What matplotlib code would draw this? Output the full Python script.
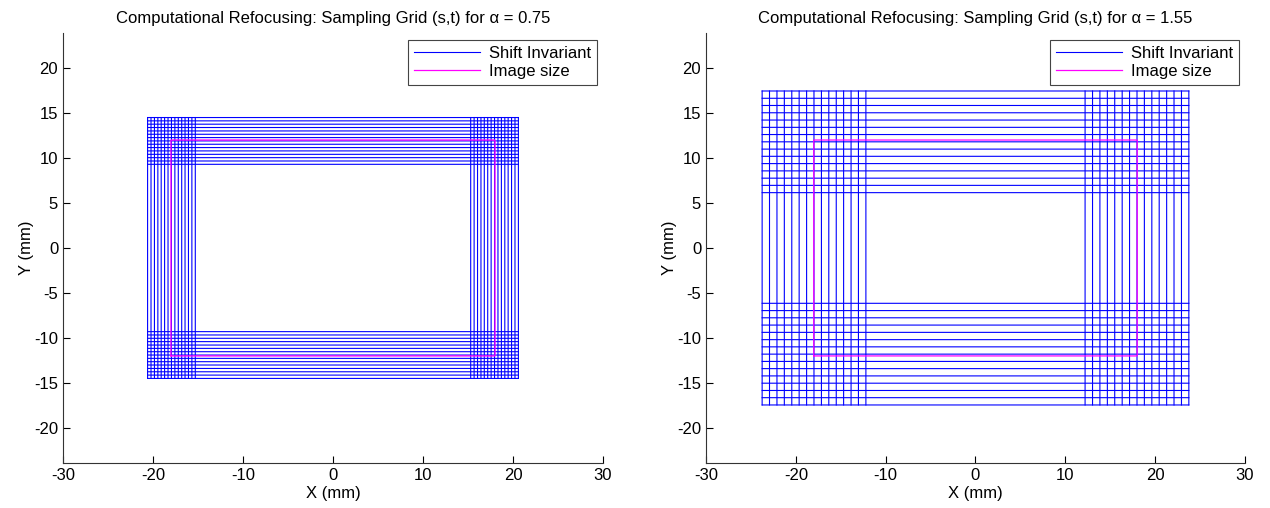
import matplotlib
matplotlib.use("Agg")
import matplotlib.pyplot as plt

plt.rcParams['font.family'] = ['Liberation Sans', 'DejaVu Sans']
plt.rcParams['font.size'] = 12
plt.rcParams['axes.unicode_minus'] = False

# sampling grid line positions (mm), upper / right band; lower / left band mirrors it
alphas = [0.75, 1.55]
grid_x = [
    [15.3, 15.68, 16.06, 16.44, 16.81, 17.19, 17.57, 17.95, 18.33, 18.71,
     19.09, 19.46, 19.84, 20.22, 20.6],
    [12.2, 13.03, 13.85, 14.68, 15.5, 16.33, 17.15, 17.98, 18.8, 19.63,
     20.45, 21.28, 22.1, 22.93, 23.75],
]
grid_y = [
    [9.3, 9.67, 10.04, 10.41, 10.79, 11.16, 11.53, 11.9, 12.27, 12.64,
     13.01, 13.39, 13.76, 14.13, 14.5],
    [6.15, 6.96, 7.76, 8.57, 9.38, 10.19, 10.99, 11.8, 12.61, 13.41,
     14.22, 15.03, 15.84, 16.64, 17.45],
]
# image (sensor) size 36 x 24 mm
img_w = 36.0
img_h = 24.0

fig = plt.figure(figsize=(12.7, 5.08), dpi=100)
positions = [[0.0496, 0.0886, 0.4252, 0.8465], [0.5559, 0.0886, 0.4244, 0.8465]]

for k in range(2):
    ax = fig.add_axes(positions[k])
    xs = [-v for v in grid_x[k][::-1]] + grid_x[k]
    ys = [-v for v in grid_y[k][::-1]] + grid_y[k]
    xmin, xmax = min(xs), max(xs)
    ymin, ymax = min(ys), max(ys)

    first = True
    for x in xs:
        ax.plot([x, x], [ymin, ymax], color='#0000ff', lw=0.8, snap=False,
                label='Shift Invariant' if first else None)
        first = False
    for y in ys:
        ax.plot([xmin, xmax], [y, y], color='#0000ff', lw=0.8, snap=False)

    hx, hy = img_w / 2, img_h / 2
    ax.plot([-hx, hx, hx, -hx, -hx], [-hy, -hy, hy, hy, -hy],
            color='#ff00ff', lw=0.9, snap=False, label='Image size')

    ax.set_xlim(-30, 30)
    ax.set_ylim(-23.9, 23.9)
    ax.set_xticks(range(-30, 31, 10))
    ax.set_yticks(range(-20, 21, 5))
    ax.spines['top'].set_visible(False)
    ax.spines['right'].set_visible(False)
    for s in ['left', 'bottom']:
        ax.spines[s].set_color('#333333')
        ax.spines[s].set_linewidth(0.8)
    ax.tick_params(direction='in', length=5, width=0.8, colors='black', labelsize=12)
    ax.set_xlabel('X (mm)', labelpad=2)
    ax.set_ylabel('Y (mm)', labelpad=0)
    ax.set_title('Computational Refocusing: Sampling Grid (s,t) for α = %.2f' % alphas[k],
                 fontsize=12, pad=7)

    leg = ax.legend(loc='upper right', bbox_to_anchor=(0.988, 0.984), fancybox=False,
                    framealpha=1, edgecolor='#444444', handlelength=4.0,
                    borderpad=0.35, labelspacing=0.2, handletextpad=0.5,
                    borderaxespad=0, fontsize=12)
    leg.get_frame().set_linewidth(0.8)

fig.savefig('out.png', dpi=100)
